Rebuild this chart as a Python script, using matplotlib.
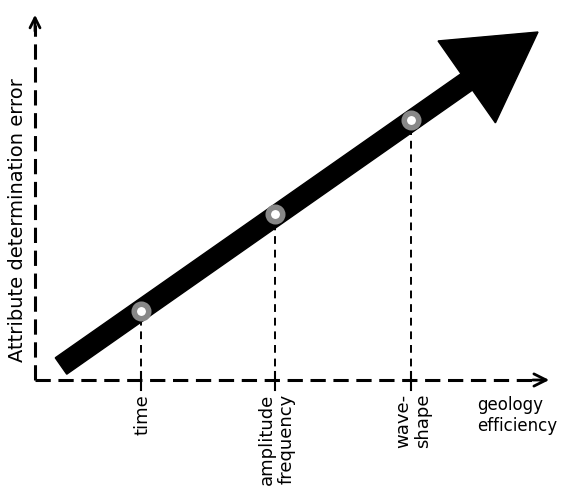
import matplotlib
matplotlib.use("Agg")
import matplotlib.pyplot as plt

# stages along the efficiency axis and their error level
stages = ["time", "amplitude\nfrequency", "wave-\nshape"]
stage_x = [106, 240, 376]
stage_err = [69, 166, 260]

# main trend arrow (start, end)
trend_start = (26, 14)
trend_end = (503, 348)

x_label = "geology\nefficiency"
y_label = "Attribute determination error"

fig = plt.figure(figsize=(5.62, 4.9), dpi=100)
ax = fig.add_axes([0, 0, 1, 1])
ax.set_xlim(-35, 527)
ax.set_ylim(-110, 380)
ax.axis("off")

# dashed axes with open arrow heads
ax.plot([0, 505], [0, 0], color="k", lw=2.2, dashes=(5, 2.5), solid_capstyle="butt")
ax.plot([0, 0], [0, 355], color="k", lw=2.2, dashes=(5, 2.5), solid_capstyle="butt")
ax.annotate("", xy=(517, 0), xytext=(495, 0),
            arrowprops=dict(arrowstyle="->", lw=2, mutation_scale=22, color="k"))
ax.annotate("", xy=(0, 368), xytext=(0, 346),
            arrowprops=dict(arrowstyle="->", lw=2, mutation_scale=18, color="k"))

# trend arrow
dx = trend_end[0] - trend_start[0]
dy = trend_end[1] - trend_start[1]
ax.arrow(trend_start[0], trend_start[1], dx, dy, width=20, head_width=100,
         head_length=87, length_includes_head=True, color="k", zorder=3)

# drop lines, ticks and labels
for lab, xv, yv in zip(stages, stage_x, stage_err):
    ax.plot([xv, xv], [0, yv], color="k", lw=1.4, dashes=(4, 3), zorder=2)
    ax.plot([xv, xv], [8, -10], color="k", lw=1.5, zorder=2)
    ax.text(xv + (1 if "\n" not in lab else 2), -14, lab, rotation=90,
            ha="center", va="top", multialignment="right",
            fontsize=13, linespacing=1.1)

ax.scatter(stage_x, stage_err, s=109, facecolor="white", edgecolor="#888888",
           linewidth=4, zorder=4)

ax.text(442, -16, x_label, ha="left", va="top", fontsize=12, linespacing=1.2)
ax.text(-17, 160, y_label, rotation=90, ha="center", va="center", fontsize=14)

fig.savefig("out.png", dpi=100)
